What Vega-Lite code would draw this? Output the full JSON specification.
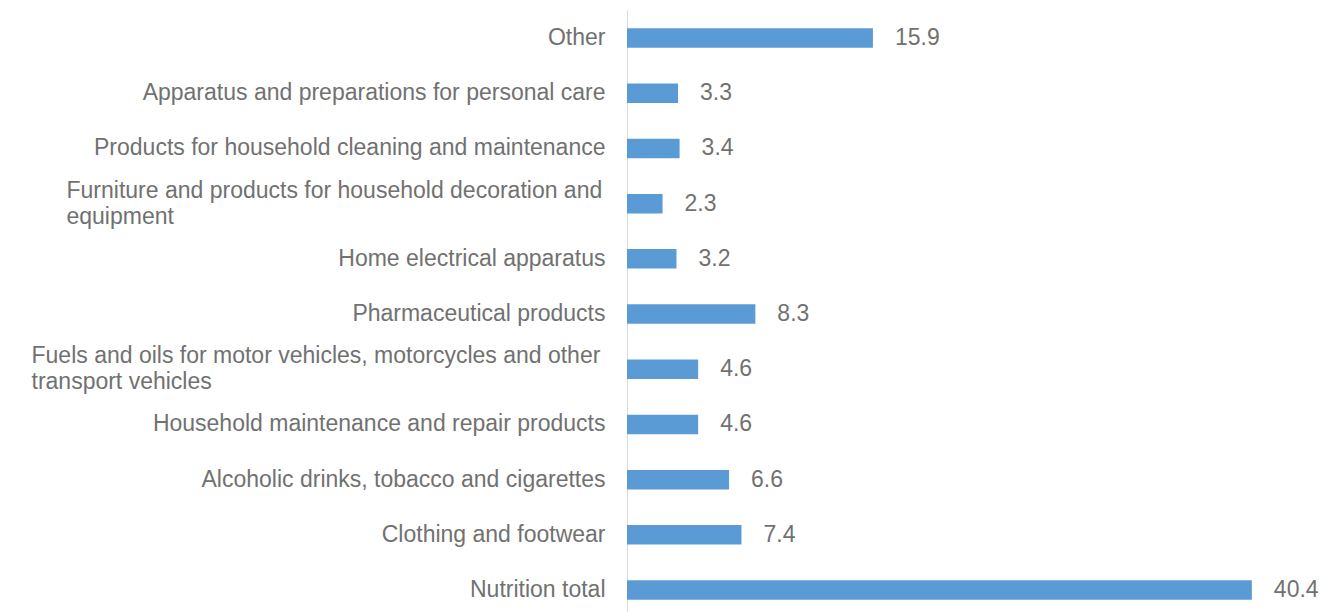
{
  "$schema": "https://vega.github.io/schema/vega-lite/v6.json",
  "autosize": {"type": "none"},
  "width": 696,
  "height": 602,
  "padding": {"left": 627, "top": 10, "right": 4, "bottom": 0},
  "background": "white",
  "config": {"view": {"stroke": null}, "font": "Liberation Sans"},
  "data": {
    "values": [
      {"category": "Other", "value": 15.9},
      {"category": "Apparatus and preparations for personal care", "value": 3.3},
      {"category": "Products for household cleaning and maintenance", "value": 3.4},
      {"category": "Furniture and products for household decoration and\nequipment", "value": 2.3},
      {"category": "Home electrical apparatus", "value": 3.2},
      {"category": "Pharmaceutical products", "value": 8.3},
      {"category": "Fuels and oils for motor vehicles, motorcycles and other\ntransport vehicles", "value": 4.6},
      {"category": "Household maintenance and repair products ", "value": 4.6},
      {"category": "Alcoholic drinks, tobacco and cigarettes", "value": 6.6},
      {"category": "Clothing and footwear", "value": 7.4},
      {"category": "Nutrition total", "value": 40.4}
    ]
  },
  "encoding": {
    "y": {
      "field": "category",
      "type": "nominal",
      "sort": null,
      "scale": {"paddingInner": 0.647, "paddingOuter": 0.2763, "align": 0.6},
      "axis": {
        "title": null,
        "ticks": false,
        "domainColor": "#d9d9d9",
        "domainWidth": 1,
        "labelFont": "Liberation Sans",
        "labelFontSize": 23,
        "labelColor": "#717171",
        "labelLimit": 1000,
        "labelLineHeight": 26,
        "labelExpr": "split(datum.value, '\\n')",
        "labelAlign": {"condition": {"test": "indexof(datum.value, '\\n') >= 0", "value": "left"}, "value": "right"},
        "labelOffset": {"condition": {"test": "indexof(datum.value, '\\n') >= 0", "value": -13}, "value": 0},
        "labelPadding": {"condition": [{"test": "indexof(datum.value, 'Fuels') == 0", "value": 596}, {"test": "indexof(datum.value, 'Furniture') == 0", "value": 561}], "value": 22}
      }
    },
    "x": {
      "field": "value",
      "type": "quantitative",
      "scale": {"domain": [0, 45]},
      "axis": null
    }
  },
  "layer": [
    {"mark": {"type": "bar", "color": "#5B9BD5"}},
    {
      "mark": {"type": "text", "align": "left", "baseline": "middle", "dx": 22, "font": "Liberation Sans", "fontSize": 23, "color": "#717171"},
      "encoding": {"text": {"field": "value", "type": "quantitative", "format": ".1f"}}
    }
  ]
}
